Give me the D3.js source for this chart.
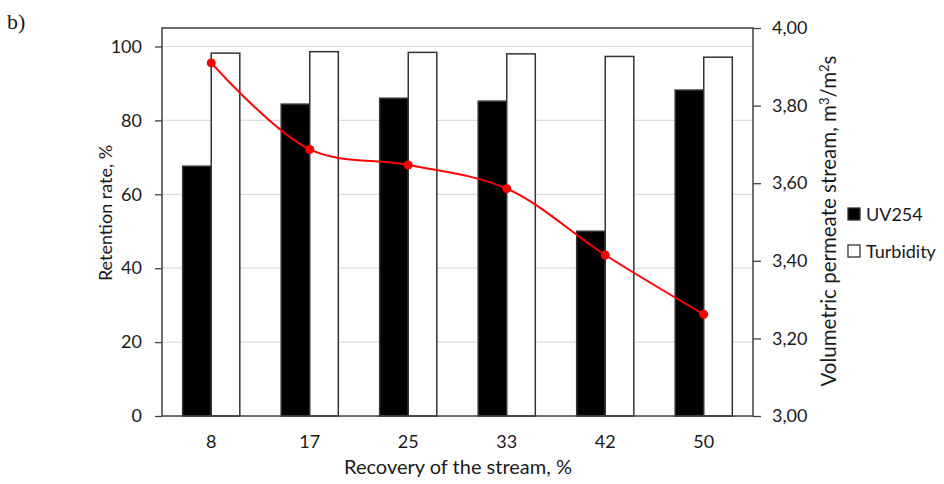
<!DOCTYPE html>
<html>
<head>
<meta charset="utf-8">
<script src="https://cdn.jsdelivr.net/npm/d3@7"></script>
<style>
  html, body { margin: 0; padding: 0; background: #fff; }
  svg { display: block; }
  text { font-family: Lato, "Open Sans", sans-serif; fill: #1a1a1a; }
</style>
</head>
<body>
<svg id="chart" width="944" height="484"></svg>
<script>
// Recovery levels (x categories)
const categories = ["8", "17", "25", "33", "42", "50"];
// Retention rate, % (left axis)
const uv254 = [67.6, 84.4, 86.0, 85.2, 50.0, 88.2];
const turbidity = [98.2, 98.6, 98.4, 98.0, 97.3, 97.1];
// Volumetric permeate stream (right axis)
const permeate = [3.91, 3.687, 3.647, 3.586, 3.415, 3.262];
// Axis ticks
const leftTicks = [0, 20, 40, 60, 80, 100];
const rightTicks = [3.0, 3.2, 3.4, 3.6, 3.8, 4.0];
const seriesNames = ["UV254", "Turbidity"];

const svg = d3.select("#chart");
const plot = { left: 162, top: 28, right: 753, bottom: 416 };

const x0 = d3.scaleBand()
  .domain(categories)
  .range([plot.left, plot.right])
  .paddingInner(0.42)
  .paddingOuter(0.21);
const x1 = d3.scaleBand()
  .domain(seriesNames)
  .range([0, x0.bandwidth()]);
const yL = d3.scaleLinear().domain([0, 105]).range([plot.bottom, plot.top]);
const yR = d3.scaleLinear().domain([3, 4]).range([plot.bottom, plot.top]);

// gridlines
svg.append("g")
  .selectAll("line")
  .data(leftTicks.filter(d => d > 0))
  .join("line")
  .attr("x1", plot.left).attr("x2", plot.right)
  .attr("y1", d => yL(d)).attr("y2", d => yL(d))
  .attr("stroke", "#dcdcdc").attr("stroke-width", 1.2);

// bars
const fills = { UV254: "#000000", Turbidity: "#ffffff" };
const groups = svg.append("g")
  .selectAll("g")
  .data(categories.map((c, i) => ({ c, vals: [
    { s: "UV254", v: uv254[i] },
    { s: "Turbidity", v: turbidity[i] }
  ] })))
  .join("g")
  .attr("transform", d => `translate(${x0(d.c)},0)`);
groups.selectAll("rect")
  .data(d => d.vals)
  .join("rect")
  .attr("x", d => x1(d.s))
  .attr("width", x1.bandwidth())
  .attr("y", d => yL(d.v))
  .attr("height", d => yL(0) - yL(d.v))
  .attr("fill", d => fills[d.s])
  .attr("stroke", "#333")
  .attr("stroke-width", 1.5);

// plot frame
svg.append("rect")
  .attr("x", plot.left).attr("y", plot.top)
  .attr("width", plot.right - plot.left).attr("height", plot.bottom - plot.top)
  .attr("fill", "none").attr("stroke", "#404040").attr("stroke-width", 1.5);

// left axis
const axL = svg.append("g")
  .attr("transform", `translate(${plot.left},0)`)
  .call(d3.axisLeft(yL).tickValues(leftTicks).tickSize(7).tickPadding(13).tickFormat(d3.format("d")));
axL.select(".domain").remove();
axL.selectAll("line").attr("stroke", "#404040").attr("stroke-width", 1.3);
axL.selectAll("text").style("font-size", "18px").attr("fill", "#1a1a1a");

// right axis
const axR = svg.append("g")
  .attr("transform", `translate(${plot.right},0)`)
  .call(d3.axisRight(yR).tickValues(rightTicks).tickSize(8).tickPadding(11)
    .tickFormat(d => d3.format(".2f")(d).replace(".", ",")));
axR.select(".domain").remove();
axR.selectAll("line").attr("stroke", "#404040").attr("stroke-width", 1.3);
axR.selectAll("text").style("font-size", "18px").attr("fill", "#1a1a1a");

// x axis labels
const axB = svg.append("g")
  .attr("transform", `translate(0,${plot.bottom})`)
  .call(d3.axisBottom(x0).tickSize(0).tickPadding(19));
axB.select(".domain").remove();
axB.selectAll("text").style("font-size", "18px").attr("fill", "#1a1a1a");

// permeate line
const pts = categories.map((c, i) => [x0(c) + x0.bandwidth() / 2, yR(permeate[i])]);
svg.append("path")
  .attr("d", d3.line().curve(d3.curveCatmullRom.alpha(0.5))(pts))
  .attr("fill", "none").attr("stroke", "#ff0000").attr("stroke-width", 2);
svg.append("g")
  .selectAll("circle")
  .data(pts)
  .join("circle")
  .attr("cx", d => d[0]).attr("cy", d => d[1]).attr("r", 4.5)
  .attr("fill", "#ff0000");

// axis titles
svg.append("text")
  .attr("transform", `translate(112,213) rotate(-90)`)
  .attr("text-anchor", "middle")
  .style("font-size", "18px")
  .text("Retention rate, %");

svg.append("text")
  .attr("x", 458).attr("y", 474)
  .attr("text-anchor", "middle")
  .style("font-size", "20px")
  .text("Recovery of the stream, %");

const rt = svg.append("text")
  .attr("transform", `translate(836,221) rotate(-90)`)
  .attr("text-anchor", "middle")
  .style("font-size", "20.5px");
rt.append("tspan").text("Volumetric permeate stream, m");
rt.append("tspan").attr("dy", -7).style("font-size", "13px").text("3");
rt.append("tspan").attr("dy", 7).text("/m");
rt.append("tspan").attr("dy", -7).style("font-size", "13px").text("2");
rt.append("tspan").attr("dy", 7).text("s");

// legend
const leg = svg.append("g").attr("transform", "translate(848,208)");
seriesNames.forEach((s, i) => {
  const g = leg.append("g").attr("transform", `translate(0,${i * 37})`);
  g.append("rect").attr("width", 12).attr("height", 12)
    .attr("fill", fills[s]).attr("stroke", "#333").attr("stroke-width", 1.3);
  g.append("text").attr("x", 18).attr("y", 12.5).style("font-size", "18px").text(s);
});

// panel label
svg.append("text")
  .attr("x", 7).attr("y", 29)
  .style("font-family", "'Liberation Serif', 'DejaVu Serif', serif")
  .style("font-size", "22px")
  .text("b)");
</script>
</body>
</html>
